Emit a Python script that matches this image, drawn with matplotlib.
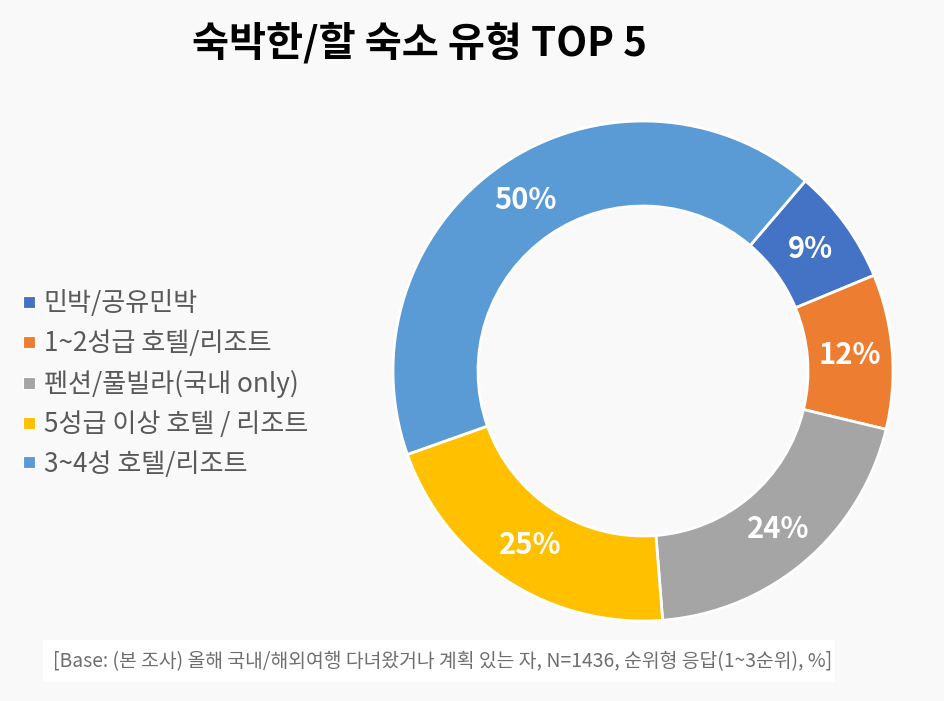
import matplotlib.pyplot as plt
from matplotlib.lines import Line2D
from matplotlib.patches import Rectangle

plt.rcParams['font.family'] = ['Noto Sans CJK KR', 'DejaVu Sans']

# data (clockwise from the blue slice)
labels = ['민박/공유민박', '1~2성급 호텔/리조트', '펜션/풀빌라(국내 only)',
          '5성급 이상 호텔 / 리조트', '3~4성 호텔/리조트']
values = [9, 12, 24, 25, 50]
colors = ['#4472C4', '#ED7D31', '#A5A5A5', '#FFC000', '#5B9BD5']
title = '숙박한/할 숙소 유형 TOP 5'
note = '[Base: (본 조사) 올해 국내/해외여행 다녀왔거나 계획 있는 자, N=1436, 순위형 응답(1~3순위), %]'

bg = '#F9F9F9'
W, H = 945, 701
fig = plt.figure(figsize=(W / 100, H / 100), dpi=100)
fig.set_facecolor(bg)

# donut: centre (643, 371) px, radius 250 px
cx, cy, r = 643, 371, 250
ax = fig.add_axes([(cx - r) / W, (H - cy - r) / H, 2 * r / W, 2 * r / H])
ax.set_facecolor(bg)
total = sum(values)
wedges, texts, autotexts = ax.pie(
    values, colors=colors, startangle=49.5, counterclock=False,
    radius=1, autopct=lambda p: '%d%%' % round(p * total / 100), pctdistance=0.83,
    wedgeprops=dict(width=0.34, edgecolor='white', linewidth=2),
    textprops=dict(color='white', fontsize=21, fontweight='bold'))
ax.set_xlim(-1, 1)
ax.set_ylim(-1, 1)
ax.set_aspect('equal')
ax.axis('off')

fig.text(420 / W, 1 - 44 / H, title, ha='center', va='center',
         fontsize=29, fontweight='bold', color='black')

handles = [Line2D([], [], marker='s', linestyle='none', markersize=8,
                  markerfacecolor=c, markeredgecolor='white', markeredgewidth=0.8)
           for c in colors]
fig.legend(handles, labels, loc='center left', bbox_to_anchor=(22 / W, 1 - 384 / H),
           frameon=False, fontsize=18.8, labelcolor='#595959', handlelength=0.55,
           handletextpad=0.28, labelspacing=0.49, borderpad=0, borderaxespad=0)

# footer note box
fig.patches.append(Rectangle((43 / W, 1 - 682 / H), (835 - 43) / W, 42 / H,
                             transform=fig.transFigure, facecolor='white',
                             edgecolor='none'))
fig.text(53 / W, 1 - 662 / H, note, ha='left', va='center',
         fontsize=13.9, color='#6E6E6E')

fig.savefig('out.png', dpi=100, facecolor=bg)
